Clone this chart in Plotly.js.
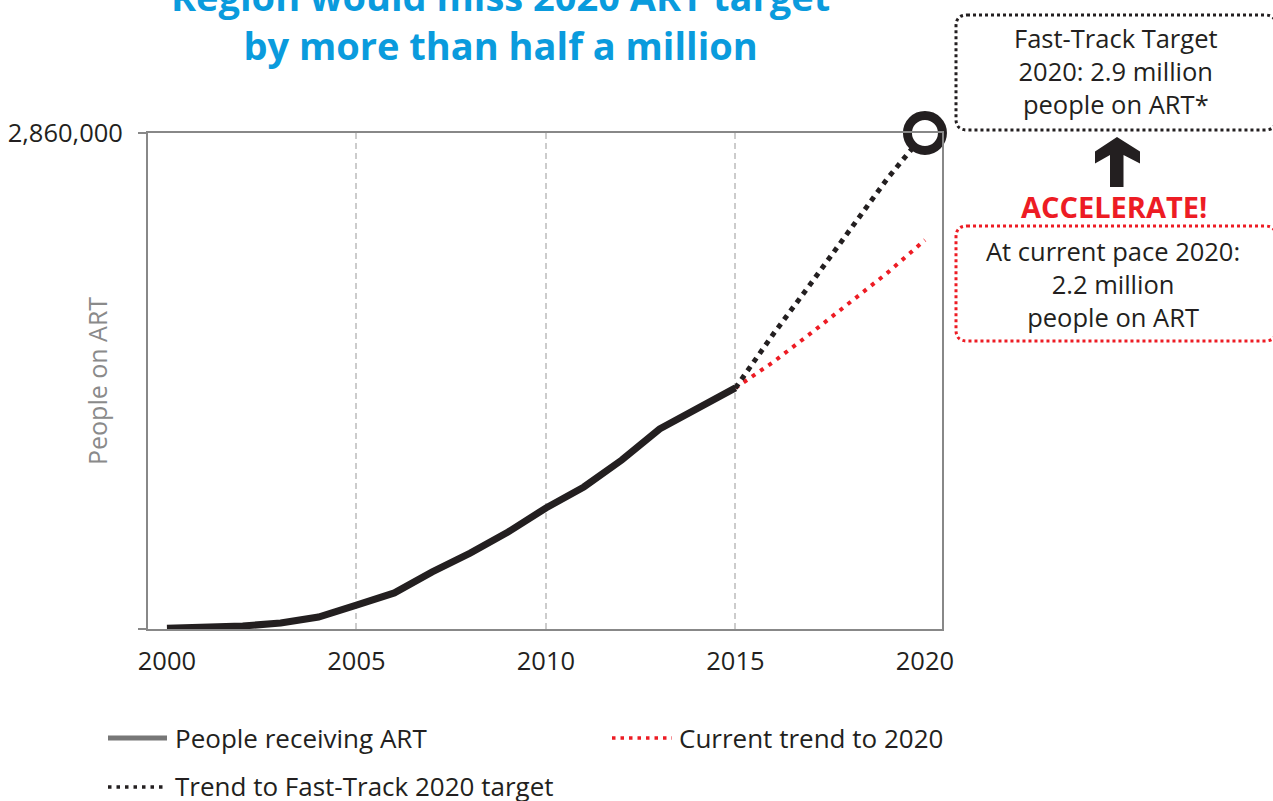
<!DOCTYPE html>
<html>
<head>
<meta charset="utf-8">
<script src="https://cdn.plot.ly/plotly-3.0.1.min.js"></script>
<style>html,body{margin:0;padding:0;background:#fff;}#chart{width:1273px;height:801px;}</style>
</head>
<body>
<div id="chart"></div>
<script>
// ---- data ----
const years = [2000, 2001, 2002, 2003, 2004, 2005, 2006, 2007, 2008, 2009, 2010, 2011, 2012, 2013, 2014, 2015];
const peopleOnArt = [5000, 9000, 17000, 35000, 69000, 138000, 208000, 329000, 438000, 559000, 698000, 819000, 974000, 1153000, 1274000, 1390000];
const trendYears = [2015, 2016, 2017, 2018, 2019, 2020];
const currentTrend = [1390000, 1540000, 1707000, 1880000, 2052000, 2243000];
const fastTrackTrend = [1390000, 1701000, 1995000, 2295000, 2595000, 2860000];
const targetYear = [2020];
const targetValue = [2860000];
const xTickYears = [2000, 2005, 2010, 2015, 2020];
const xTickLabels = ['2000', '2005', '2010', '2015', '2020'];
const gridYears = [2005, 2010, 2015];
const yTickVals = [0, 2860000];
const yTickLabels = ['', '2,860,000'];
const legendLabels = ['People receiving ART', 'Current trend to 2020', 'Trend to Fast-Track 2020 target'];

// ---- helpers for decorative items placed in pixel space ----
const L = 148, T = 133, PW = 794, PH = 496;
const px = x => (x - L) / PW;
const py = y => (T + PH - y) / PH;
function rrect(x0, y0, x1, y1, r) {
  const P = (x, y) => px(x).toFixed(5) + ',' + py(y).toFixed(5);
  return 'M' + P(x0 + r, y0) + ' L' + P(x1 - r, y0) + ' Q' + P(x1, y0) + ' ' + P(x1, y0 + r) +
    ' L' + P(x1, y1 - r) + ' Q' + P(x1, y1) + ' ' + P(x1 - r, y1) +
    ' L' + P(x0 + r, y1) + ' Q' + P(x0, y1) + ' ' + P(x0, y1 - r) +
    ' L' + P(x0, y0 + r) + ' Q' + P(x0, y0) + ' ' + P(x0 + r, y0) + ' Z';
}
function poly(pts) {
  return 'M' + pts.map(p => px(p[0]).toFixed(5) + ',' + py(p[1]).toFixed(5)).join(' L') + ' Z';
}

const BLACK = '#231f20', RED = '#ed1c24', BLUE = '#0a9bdd', GRAY = '#888888';
const FONT = 'Open Sans, Lato, sans-serif';

const traces = [
  { // carrier for the grid-only overlay axis
    x: gridYears, y: gridYears.map(() => null), xaxis: 'x2', yaxis: 'y',
    mode: 'lines', showlegend: false, hoverinfo: 'skip'
  },
  {
    x: trendYears, y: currentTrend, mode: 'lines', name: legendLabels[1],
    line: { color: RED, width: 4, dash: '4px,6px' }, showlegend: false
  },
  {
    x: trendYears, y: fastTrackTrend, mode: 'lines', name: legendLabels[2],
    line: { color: BLACK, width: 5, dash: '5px,5.5px' }, showlegend: false
  },
  {
    x: years, y: peopleOnArt, mode: 'lines', name: legendLabels[0],
    line: { color: BLACK, width: 7 }, showlegend: false
  },
  {
    x: targetYear, y: targetValue, mode: 'markers', showlegend: false, cliponaxis: false,
    marker: { size: 35, color: '#ffffff', line: { color: BLACK, width: 9 } }
  }
];

const shapes = [
  // annotation boxes
  { type: 'path', xref: 'paper', yref: 'paper', path: rrect(956, 15, 1276, 130, 11),
    line: { color: BLACK, width: 3, dash: '3px,3px' } },
  { type: 'path', xref: 'paper', yref: 'paper', path: rrect(956, 226, 1276, 341, 11),
    line: { color: RED, width: 3, dash: '3px,3px' } },
  // up arrow
  { type: 'path', xref: 'paper', yref: 'paper', fillcolor: BLACK, line: { width: 0 },
    path: poly([[1117, 137], [1140, 151.5], [1140, 163.5], [1123.5, 155], [1123.5, 187], [1110, 187], [1110, 155], [1095, 163.5], [1095, 151.5]]) },
  // legend samples
  { type: 'line', xref: 'paper', yref: 'paper', x0: px(108), x1: px(167), y0: py(738), y1: py(738),
    line: { color: '#777777', width: 5 } },
  { type: 'line', xref: 'paper', yref: 'paper', x0: px(612), x1: px(672), y0: py(738), y1: py(738),
    line: { color: RED, width: 3.5, dash: '3.5px,5px' } },
  { type: 'line', xref: 'paper', yref: 'paper', x0: px(108), x1: px(167), y0: py(787), y1: py(787),
    line: { color: BLACK, width: 3.5, dash: '3.5px,5px' } }
];

const annotations = [
  { text: '<b>Region would miss 2020 ART target</b><br><b>by more than half a million</b>',
    xref: 'paper', yref: 'paper', x: px(500), y: py(21), xanchor: 'center', yanchor: 'middle',
    showarrow: false, font: { family: FONT, size: 38, color: BLUE } },
  { text: 'People on ART', xref: 'paper', yref: 'paper', x: px(97), y: py(381), textangle: -90,
    xanchor: 'center', yanchor: 'middle', showarrow: false, font: { family: FONT, size: 25, color: '#8a8a8a' } },
  { text: 'Fast-Track Target<br>2020: 2.9 million<br>people on ART*', xref: 'paper', yref: 'paper',
    x: px(1116), y: py(71), xanchor: 'center', yanchor: 'middle', showarrow: false,
    font: { family: FONT, size: 25.5, color: BLACK } },
  { text: '<b>ACCELERATE!</b>', xref: 'paper', yref: 'paper', x: px(1114), y: py(206),
    xanchor: 'center', yanchor: 'middle', showarrow: false, font: { family: FONT, size: 29, color: RED } },
  { text: 'At current pace 2020:<br>2.2 million<br>people on ART', xref: 'paper', yref: 'paper',
    x: px(1113), y: py(284), xanchor: 'center', yanchor: 'middle', showarrow: false,
    font: { family: FONT, size: 25.5, color: BLACK } },
  { text: legendLabels[0], xref: 'paper', yref: 'paper', x: px(173), y: py(738), xanchor: 'left', yanchor: 'middle',
    showarrow: false, font: { family: FONT, size: 26, color: BLACK } },
  { text: legendLabels[1], xref: 'paper', yref: 'paper', x: px(677), y: py(738), xanchor: 'left', yanchor: 'middle',
    showarrow: false, font: { family: FONT, size: 26, color: BLACK } },
  { text: legendLabels[2], xref: 'paper', yref: 'paper', x: px(173), y: py(786), xanchor: 'left', yanchor: 'middle',
    showarrow: false, font: { family: FONT, size: 26, color: BLACK } }
];

const layout = {
  width: 1273, height: 801,
  margin: { l: 148, r: 331, t: 133, b: 172, pad: 0 },
  paper_bgcolor: '#ffffff', plot_bgcolor: '#ffffff',
  showlegend: false, hovermode: false,
  font: { family: FONT, color: BLACK },
  xaxis: {
    range: [1999.5, 2020.45], tickvals: xTickYears, ticktext: xTickLabels,
    showgrid: false, zeroline: false, showline: true, mirror: true, linecolor: GRAY, linewidth: 2,
    ticks: 'outside', ticklen: 8, tickcolor: 'rgba(0,0,0,0)',
    tickfont: { family: FONT, size: 25.5, color: BLACK }
  },
  xaxis2: {
    overlaying: 'x', anchor: 'y', range: [1999.5, 2020.45], tickvals: gridYears,
    showticklabels: false, ticks: '', showline: false, zeroline: false,
    showgrid: true, gridcolor: '#cccccc', gridwidth: 2, griddash: '6px,4px'
  },
  yaxis: {
    range: [0, 2860000], tickvals: yTickVals, ticktext: yTickLabels,
    showgrid: false, zeroline: false, showline: true, mirror: true, linecolor: GRAY, linewidth: 2,
    ticks: 'outside', ticklen: 8, tickwidth: 2, tickcolor: GRAY, ticklabelstandoff: 10,
    tickfont: { family: FONT, size: 25.5, color: BLACK }
  },
  shapes: shapes,
  annotations: annotations
};

Plotly.newPlot('chart', traces, layout, { displayModeBar: false, staticPlot: true });
</script>
</body>
</html>
